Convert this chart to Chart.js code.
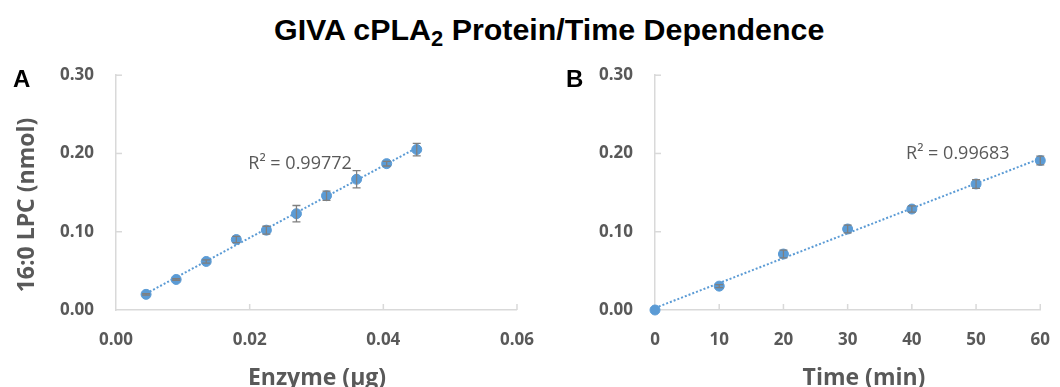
<!DOCTYPE html>
<html>
<head>
<meta charset="utf-8">
<script src="https://cdn.jsdelivr.net/npm/chart.js@4.4.1/dist/chart.umd.min.js"></script>
<style>
  html, body { margin: 0; padding: 0; background: #fff; overflow: hidden; }
  body { width: 1060px; height: 387px; position: relative; }
  #titulo {
    position: absolute; left: 274px; top: 14px;
    font-family: "Liberation Sans", Arial, sans-serif; font-weight: bold;
    font-size: 30.4px; line-height: 30px; color: #000; white-space: nowrap;
  }
  #titulo sub { font-size: 0.72em; line-height: 0; vertical-align: -0.28em; }
  .panel { position: absolute; top: 43px; height: 347px; }
  #panelA { left: 0; width: 554px; }
  #panelB { left: 540px; width: 530px; }
</style>
</head>
<body>
<div id="titulo">GIVA cPLA<sub>2</sub> Protein/Time Dependence</div>
<div class="panel" id="panelA"><canvas id="chartA"></canvas></div>
<div class="panel" id="panelB"><canvas id="chartB"></canvas></div>

<script>
// Datos del panel A: enzima (µg) vs 16:0 LPC (nmol)
const enzimaUg = [0.0045, 0.009, 0.0135, 0.018, 0.0225, 0.027, 0.0315, 0.036, 0.0405, 0.045];
const lpcEnzima = [0.020, 0.039, 0.062, 0.090, 0.102, 0.123, 0.146, 0.167, 0.187, 0.205];
const errEnzima = [0.001, 0.001, 0.002, 0.004, 0.005, 0.0105, 0.006, 0.011, 0.003, 0.008];
const r2Enzima = '0.99772';

// Datos del panel B: tiempo (min) vs 16:0 LPC (nmol)
const tiempoMin = [0, 10, 20, 30, 40, 50, 60];
const lpcTiempo = [0.000, 0.0305, 0.0715, 0.1035, 0.129, 0.161, 0.191];
const errTiempo = [0, 0.002, 0.005, 0.005, 0.004, 0.0057, 0.0056];
const r2Tiempo = '0.99683';

const ticksY = [0, 0.10, 0.20, 0.30];

const AZUL = '#5b9bd5';
const GRIS = '#595959';
const EJE = '#d9d9d9';

// Ajuste lineal por mínimos cuadrados (línea de tendencia)
const ajusteLineal = (xs, ys) => {
    const n = xs.length;
    const mx = xs.reduce((a, b) => a + b, 0) / n;
    const my = ys.reduce((a, b) => a + b, 0) / n;
    let sxy = 0, sxx = 0;
    xs.forEach((x, i) => { sxy += (x - mx) * (ys[i] - my); sxx += (x - mx) * (x - mx); });
    const m = sxy / sxx;
    const b = my - m * mx;
    return [xs[0], xs[n - 1]].map(x => ({ x: x, y: m * x + b }));
};

// Plugin: marcas hacia dentro, barras de error, letra del panel, títulos de ejes y R²
const extras = {
    id: 'extras',
    beforeDatasetsDraw(chart) {
        const { ctx, scales: { x, y } } = chart;
        ctx.save();
        ctx.strokeStyle = EJE;
        ctx.lineWidth = 1.5;
        x.ticks.forEach(t => {
            if (t.value === x.min) return;
            const px = x.getPixelForValue(t.value);
            ctx.beginPath(); ctx.moveTo(px, y.bottom); ctx.lineTo(px, y.bottom - 6); ctx.stroke();
        });
        y.ticks.forEach(t => {
            if (t.value === y.min) return;
            const py = y.getPixelForValue(t.value);
            ctx.beginPath(); ctx.moveTo(x.left, py); ctx.lineTo(x.left + 6, py); ctx.stroke();
        });
        ctx.restore();
    },
    afterDatasetsDraw(chart, args, opts) {
        // barras de error encima de los marcadores, como en Excel
        const { ctx, scales: { x, y } } = chart;
        ctx.save();
        ctx.strokeStyle = '#7f7f7f';
        ctx.lineWidth = 1.3;
        opts.xs.forEach((xv, i) => {
            const e = opts.errs[i];
            if (!e) return;
            const px = x.getPixelForValue(xv);
            const top = y.getPixelForValue(opts.ys[i] + e);
            const bot = y.getPixelForValue(opts.ys[i] - e);
            ctx.beginPath();
            ctx.moveTo(px, top); ctx.lineTo(px, bot);
            ctx.moveTo(px - 4, top); ctx.lineTo(px + 4, top);
            ctx.moveTo(px - 4, bot); ctx.lineTo(px + 4, bot);
            ctx.stroke();
        });
        ctx.restore();
    },
    afterDraw(chart, args, opts) {
        const { ctx, scales: { x, y } } = chart;
        ctx.save();
        ctx.fillStyle = '#000';
        ctx.font = 'bold 24px "Liberation Sans", Arial, sans-serif';
        ctx.textBaseline = 'alphabetic';
        ctx.fillText(opts.letra, opts.letraX, 44);
        ctx.fillStyle = GRIS;
        ctx.font = '18px "Open Sans", sans-serif';
        ctx.textBaseline = 'middle';
        ctx.fillText('R² = ' + opts.r2, x.getPixelForValue(opts.r2En[0]), y.getPixelForValue(opts.r2En[1]));
        // títulos de los ejes
        ctx.font = 'bold 23px "Open Sans", sans-serif';
        ctx.textAlign = 'center';
        ctx.fillText(opts.xTitulo, opts.xTituloEn[0], opts.xTituloEn[1]);
        if (opts.yTitulo) {
            ctx.translate(opts.yTituloEn[0], opts.yTituloEn[1]);
            ctx.rotate(-Math.PI / 2);
            ctx.fillText(opts.yTitulo, 0, 0);
        }
        ctx.restore();
    }
};

const fuenteTick = { family: 'Open Sans', weight: 'bold', size: 17 };

const crearPanel = (canvasId, xs, ys, errs, r2, cfg) => {
    const ctx = document.getElementById(canvasId).getContext('2d');
    return new Chart(ctx, {
        type: 'scatter',
        data: {
            datasets: [{
                data: xs.map((x, i) => ({ x: x, y: ys[i] })),
                backgroundColor: AZUL,
                borderColor: AZUL,
                pointRadius: 5,
                clip: false,
                order: 0
            }, {
                data: ajusteLineal(xs, ys),
                showLine: true,
                borderColor: AZUL,
                borderWidth: 2,
                borderDash: [2, 2],
                pointRadius: 0,
                clip: false,
                order: 1
            }]
        },
        options: {
            responsive: true,
            maintainAspectRatio: false,
            animation: false,
            layout: { autoPadding: false, padding: { top: 15, right: 10, left: 0, bottom: 0 } },
            plugins: {
                legend: { display: false },
                tooltip: { enabled: false },
                extras: {
                    xs: xs, ys: ys, errs: errs, r2: r2,
                    letra: cfg.letra, letraX: cfg.letraX, r2En: cfg.r2En,
                    xTitulo: cfg.xTitulo, xTituloEn: cfg.xTituloEn,
                    yTitulo: cfg.yTitulo, yTituloEn: [27, 162]
                }
            },
            scales: {
                x: {
                    type: 'linear',
                    min: cfg.xMin, max: cfg.xMax,
                    afterBuildTicks: s => { s.ticks = cfg.xTicks.map(v => ({ value: v })); },
                    ticks: {
                        callback: cfg.xFmt,
                        font: fuenteTick, color: GRIS, padding: 20, maxRotation: 0
                    },
                    grid: { display: false, drawTicks: false },
                    border: { display: true, color: EJE, width: 1.5 },
                    afterFit: s => { s.height = 80; }
                },
                y: {
                    type: 'linear',
                    min: 0, max: 0.3,
                    afterBuildTicks: s => { s.ticks = ticksY.map(v => ({ value: v })); },
                    ticks: {
                        callback: v => v.toFixed(2),
                        font: fuenteTick, color: GRIS, padding: 22
                    },
                    grid: { display: false, drawTicks: false },
                    border: { display: true, color: EJE, width: 1.5 },
                    afterFit: s => { s.width = cfg.anchoY; }
                }
            }
        },
        plugins: [extras]
    });
};

crearPanel('chartA', enzimaUg, lpcEnzima, errEnzima, r2Enzima, {
    letra: 'A', letraX: 13, r2En: [0.0198, 0.1867],
    xMin: 0, xMax: 0.06, xTicks: [0, 0.02, 0.04, 0.06], xFmt: v => Number(v).toFixed(2),
    xTitulo: 'Enzyme (µg)', xTituloEn: [317, 335],
    yTitulo: '16:0 LPC (nmol)',
    anchoY: 116
});

crearPanel('chartB', tiempoMin, lpcTiempo, errTiempo, r2Tiempo, {
    letra: 'B', letraX: 26, r2En: [39.1, 0.1996],
    xMin: 0, xMax: 60, xTicks: [0, 10, 20, 30, 40, 50, 60], xFmt: v => String(v),
    xTitulo: 'Time (min)', xTituloEn: [324, 335],
    yTitulo: '',
    anchoY: 115
});
</script>
</body>
</html>
